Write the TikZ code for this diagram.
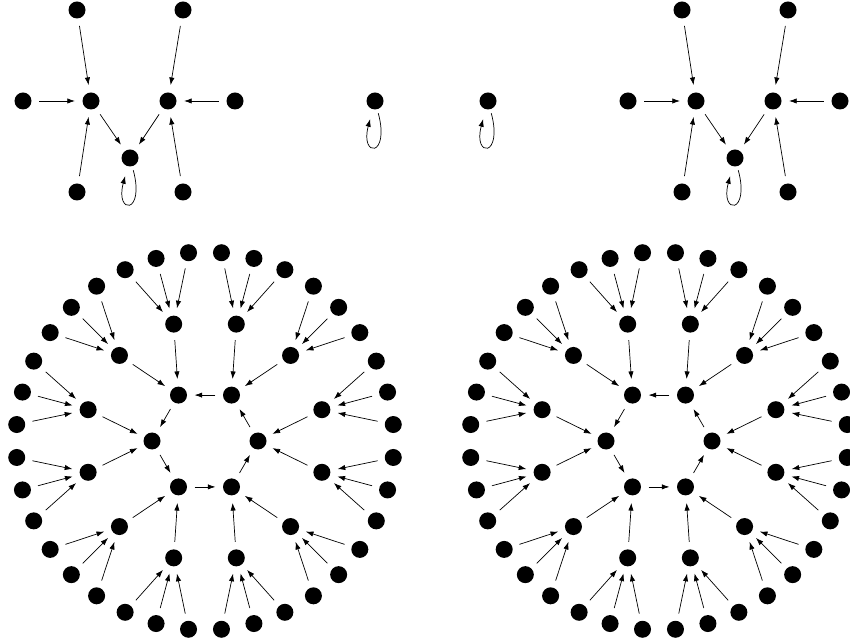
\documentclass[tikz,border=0pt]{standalone}
\usetikzlibrary{arrows.meta}
\tikzset{
  dot/.style={circle,fill=black,inner sep=0pt,minimum size=0.51cm},
  arr/.style={-{Latex[length=2.3mm,width=1.6mm]},line width=0.6pt,
    shorten <=0.22cm,shorten >=0.22cm},
  selfloop/.style={arr,shorten <=0.12cm,shorten >=0.3cm,out=-75,in=-105,min distance=1.5cm},
}
\begin{document}
\begin{tikzpicture}[x=0.03cm,y=0.03cm]
  \useasboundingbox (0,0) rectangle (850,643);
  \clip (0,0) rectangle (850,643);
  % two small trees with a fixed point
  \foreach \sx/\g in {0/l,605/r}{
    \begin{scope}[shift={(\sx,0)}]
      \node[dot] (\g a1) at (77,633) {};
      \node[dot] (\g a2) at (183,633) {};
      \node[dot] (\g b1) at (23,542) {};
      \node[dot] (\g c1) at (91,542) {};
      \node[dot] (\g c2) at (168,542) {};
      \node[dot] (\g b2) at (235,542) {};
      \node[dot] (\g d) at (130,485) {};
      \node[dot] (\g e1) at (77,451) {};
      \node[dot] (\g e2) at (183,451) {};
      \draw[arr] (\g a1) -- (\g c1);
      \draw[arr] (\g b1) -- (\g c1);
      \draw[arr] (\g e1) -- (\g c1);
      \draw[arr] (\g a2) -- (\g c2);
      \draw[arr] (\g b2) -- (\g c2);
      \draw[arr] (\g e2) -- (\g c2);
      \draw[arr] (\g c1) -- (\g d);
      \draw[arr] (\g c2) -- (\g d);
      \draw[selfloop] (\g d) to (\g d);
    \end{scope}
  }
  % isolated fixed points
  \node[dot] (f1) at (375,542) {};
  \node[dot] (f2) at (488,542) {};
  \draw[selfloop] (f1) to (f1);
  \draw[selfloop] (f2) to (f2);
  % two wheels: 6-cycle, 12 middle, 36 outer
  \foreach \cx/\w in {205/p,659/q}{
    \begin{scope}[shift={(\cx,202)}]
      \foreach \k in {0,...,5}
        \node[dot] (\w h\k) at (60*\k:53) {};
      \foreach \k in {0,...,5}{
        \pgfmathtruncatemacro\nk{mod(\k+1,6)}
        \draw[arr] (\w h\k) -- (\w h\nk);
      }
      \foreach \j in {0,...,11}{
        \pgfmathtruncatemacro\hk{mod(floor((\j+1)/2),6)}
        \node[dot] (\w m\j) at (15+30*\j:121) {};
        \draw[arr] (\w m\j) -- (\w h\hk);
        \foreach \o [count=\i] in {-10,0,10}{
          \node[dot] (\w o\j n\i) at (15+30*\j+\o:189) {};
          \draw[arr] (\w o\j n\i) -- (\w m\j);
        }
      }
    \end{scope}
  }
\end{tikzpicture}
\end{document}
